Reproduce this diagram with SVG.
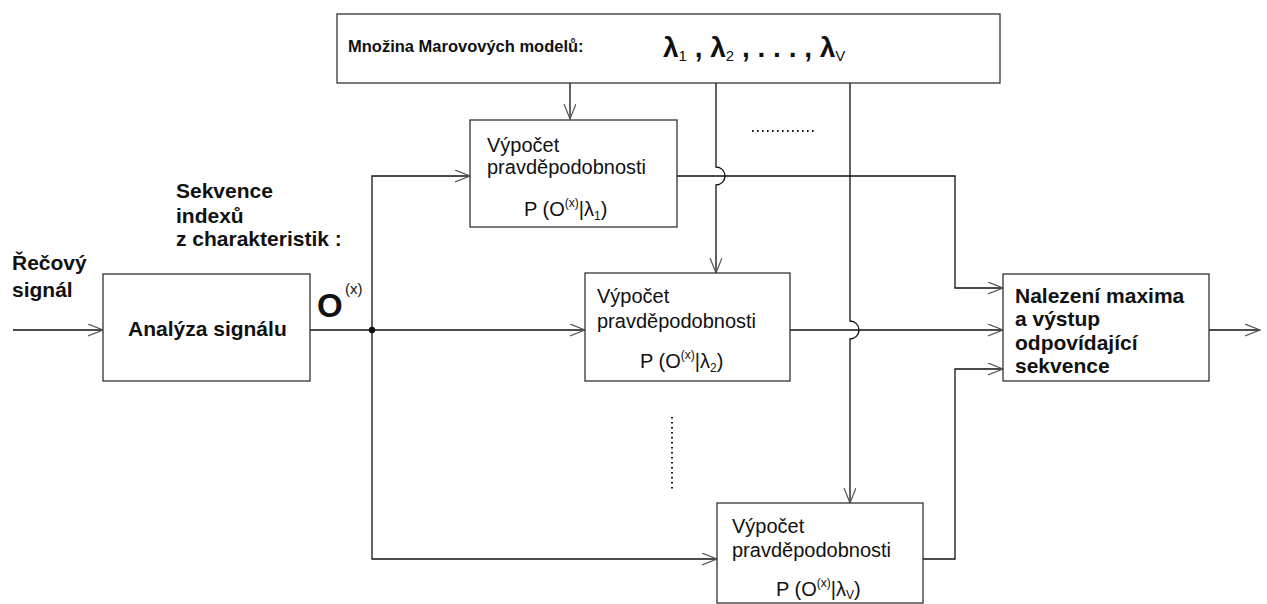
<svg xmlns="http://www.w3.org/2000/svg" width="1267" height="604" viewBox="0 0 1267 604">
<style>
.box{fill:#fff;stroke:#333;stroke-width:1.3}
.ln{fill:none;stroke:#111;stroke-width:1.3}
.t{font-family:"Liberation Sans",Arial,sans-serif;font-size:20px;fill:#111}
.b{font-family:"Liberation Sans",Arial,sans-serif;font-size:21px;font-weight:bold;fill:#111}
.sm{font-size:12px}
.dot{fill:none;stroke:#111;stroke-width:2;stroke-dasharray:1.6 3.4}
</style>
<defs>
<marker id="ar" markerUnits="userSpaceOnUse" markerWidth="18" markerHeight="14" refX="15" refY="6" orient="auto">
<path d="M0,0 L15,6 L0,12" fill="none" stroke="#555" stroke-width="1.2"/>
</marker>
</defs>
<rect width="1267" height="604" fill="#fff"/>

<g id="connectors">
<path class="ln" d="M13,330 H103" marker-end="url(#ar)"/>
<path class="ln" d="M310,330 H585" marker-end="url(#ar)"/>
<path class="ln" d="M372,330 V176 H470" marker-end="url(#ar)"/>
<path class="ln" d="M372,330 V559 H717" marker-end="url(#ar)"/>
<circle cx="372" cy="330" r="3.2" fill="#111"/>
<path class="ln" d="M570,83 V119" marker-end="url(#ar)"/>
<path class="ln" d="M716,83 V167 A9,9 0 0 1 716,185 V273" marker-end="url(#ar)"/>
<path class="ln" d="M850,83 V321 A9,9 0 0 1 850,339 V503" marker-end="url(#ar)"/>
<path class="ln" d="M677,176 H955 V288 H1003" marker-end="url(#ar)"/>
<path class="ln" d="M790,330 H1003" marker-end="url(#ar)"/>
<path class="ln" d="M923,559 H955 V369 H1003" marker-end="url(#ar)"/>
<path class="ln" d="M1209,330 H1260" marker-end="url(#ar)"/>
<path class="dot" d="M752,131 H816"/>
<path class="dot" d="M672,417 V489"/>
</g>

<g id="models">
<rect class="box" x="337" y="14" width="663" height="69"/>
<text class="b" x="348" y="52" style="font-size:16.5px">Množina Marovových modelů:</text>
<text class="b" x="663" y="57" style="font-size:28px">λ<tspan style="font-size:15px;font-weight:normal" dy="4">1</tspan><tspan dy="-4"> , λ</tspan><tspan style="font-size:15px;font-weight:normal" dy="4">2</tspan><tspan dy="-4"> , . . . , λ</tspan><tspan style="font-size:15px;font-weight:normal" dy="4">V</tspan></text>
</g>

<g id="labels">
<text class="b" x="12" y="270">Řečový</text>
<text class="b" x="12" y="297">signál</text>
<text class="b" x="176" y="198">Sekvence</text>
<text class="b" x="176" y="223">indexů</text>
<text class="b" x="176" y="246">z charakteristik :</text>
<text class="b" x="317" y="317" style="font-size:33px">O</text>
<text class="t" x="345" y="294" style="font-size:15px">(x)</text>
</g>

<g id="analysis">
<rect class="box" x="103" y="274" width="207" height="107"/>
<text class="b" x="128" y="336">Analýza signálu</text>
</g>

<g id="p1">
<rect class="box" x="470" y="120" width="207" height="107"/>
<text class="t" x="487" y="152">Výpočet</text>
<text class="t" x="487" y="174">pravděpodobnosti</text>
<text class="t" x="524" y="216">P (O<tspan class="sm" dy="-9">(x)</tspan><tspan dy="9">|λ</tspan><tspan class="sm" dy="4">1</tspan><tspan dy="-4">)</tspan></text>
</g>

<g id="p2">
<rect class="box" x="585" y="273" width="205" height="108"/>
<text class="t" x="597" y="303">Výpočet</text>
<text class="t" x="597" y="328">pravděpodobnosti</text>
<text class="t" x="640" y="368">P (O<tspan class="sm" dy="-9">(x)</tspan><tspan dy="9">|λ</tspan><tspan class="sm" dy="4">2</tspan><tspan dy="-4">)</tspan></text>
</g>

<g id="pv">
<rect class="box" x="717" y="503" width="206" height="100"/>
<text class="t" x="732" y="533">Výpočet</text>
<text class="t" x="732" y="557">pravděpodobnosti</text>
<text class="t" x="776" y="596">P (O<tspan class="sm" dy="-9">(x)</tspan><tspan dy="9">|λ</tspan><tspan class="sm" dy="3">V</tspan><tspan dy="-3">)</tspan></text>
</g>

<g id="max">
<rect class="box" x="1003" y="274" width="206" height="107"/>
<text class="b" x="1015" y="303">Nalezení maxima</text>
<text class="b" x="1015" y="326">a výstup</text>
<text class="b" x="1015" y="350">odpovídající</text>
<text class="b" x="1015" y="373">sekvence</text>
</g>
</svg>
